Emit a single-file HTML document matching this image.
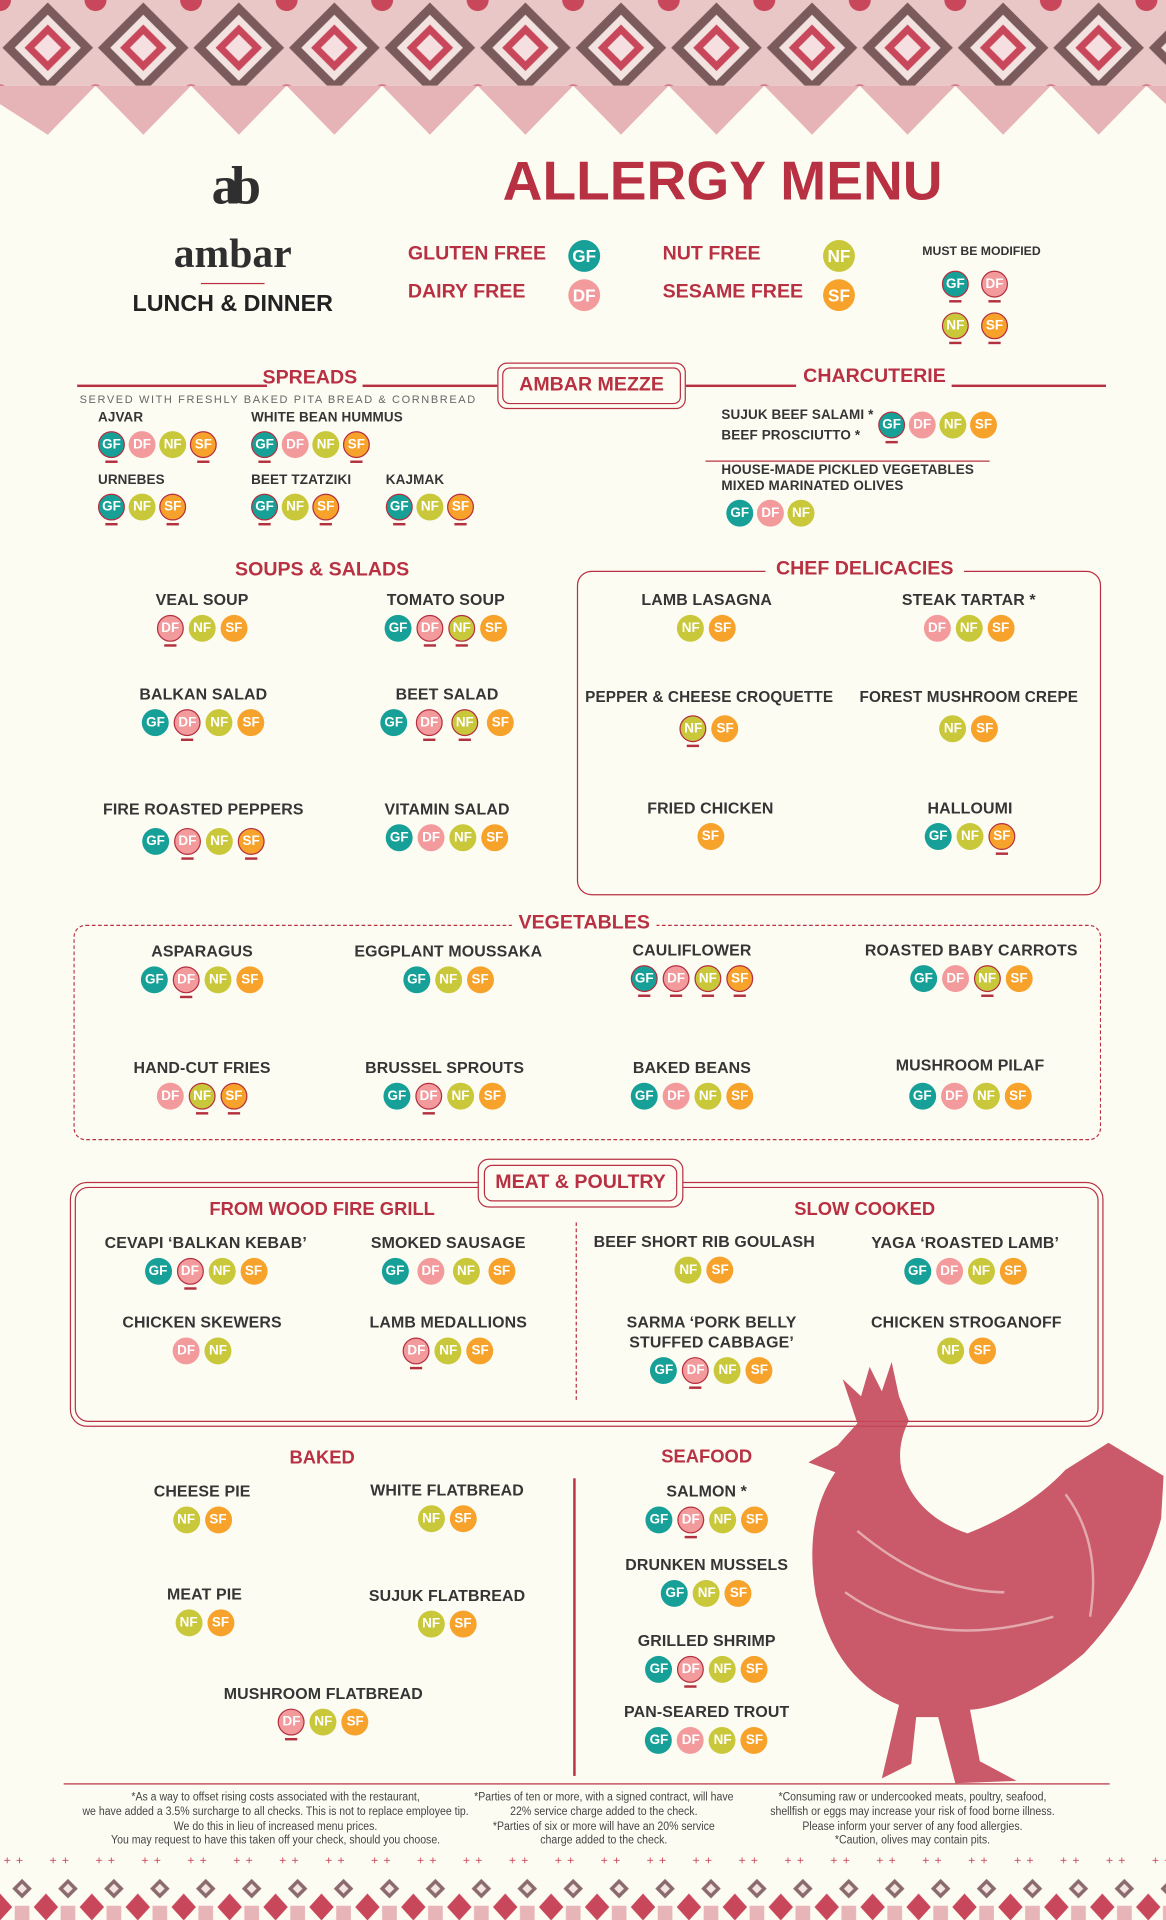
<!DOCTYPE html>
<html><head><meta charset="utf-8">
<style>
html,body{margin:0;padding:0;background:#fdfcf3;}
#w{width:952px;height:1568px;position:relative;transform:scale(1.22479);transform-origin:0 0;overflow:hidden;font-family:"Liberation Sans",sans-serif;color:#333;}
.a{position:absolute;}
.it{position:absolute;transform:translateX(-50%);text-align:center;white-space:nowrap;}
.il{position:absolute;white-space:nowrap;}
.it p,.il p{margin:0 0 4px;font-weight:bold;font-size:13px;line-height:16px;color:#353535;letter-spacing:.1px;}
.il p{font-size:11px;line-height:13px;font-family:"Liberation Sans Narrow","Liberation Sans",sans-serif;}
.r{display:flex;gap:4px;justify-content:center;}
.il .r{justify-content:flex-start;gap:3px;}
.r b{width:22px;height:22px;border-radius:50%;display:inline-flex;align-items:center;justify-content:center;color:#fff;font-size:11px;font-weight:bold;font-family:"Liberation Sans Narrow","Liberation Sans",sans-serif;position:relative;box-sizing:border-box;}
.g{background:#17a097;}.d{background:#f29a9c;}.n{background:#c9c73a;}.s{background:#f6a22b;}
b.m{border:1.5px solid #b3303f;}
b.m::after{content:"";position:absolute;left:5px;right:5px;bottom:-5px;height:2px;background:#b3303f;}
.h{position:absolute;transform:translateX(-50%);color:#b83143;font-weight:bold;font-size:16px;white-space:nowrap;}
.ln{position:absolute;height:1.5px;background:#b83143;}
.ft{position:absolute;transform:translateX(-50%) scaleX(0.86);text-align:center;font-family:"Liberation Sans Narrow","Liberation Sans",sans-serif;font-size:10px;line-height:11.8px;color:#444;white-space:nowrap;}
.leg{position:absolute;color:#b83143;font-weight:bold;font-size:16px;}
.lb{position:absolute;width:26px;height:26px;border-radius:50%;color:#fff;font-weight:bold;font-size:14px;display:flex;align-items:center;justify-content:center;font-family:"Liberation Sans Narrow","Liberation Sans",sans-serif;box-sizing:border-box;}
</style></head><body><div id="w">

<svg class="a" style="left:0;top:0" width="952" height="120">
<defs>
<pattern id="p1" width="78" height="78" patternUnits="userSpaceOnUse">
<rect width="78" height="78" fill="#e9c7c7"/>
<polygon points="39,2 76,39 39,76 2,39" fill="#7a5a5a"/>
<polygon points="39,12 66,39 39,66 12,39" fill="#f2e2e0"/>
<polygon points="39,20 58,39 39,58 20,39" fill="#c9475a"/>
<polygon points="39,28 50,39 39,50 28,39" fill="#f6dfe0"/>
<circle cx="0" cy="0" r="9" fill="#c9475a"/><circle cx="78" cy="0" r="9" fill="#c9475a"/><circle cx="0" cy="78" r="9" fill="#c9475a"/><circle cx="78" cy="78" r="9" fill="#c9475a"/>
</pattern>
</defs>
<rect x="0" y="0" width="952" height="70" fill="url(#p1)"/>
<path d="M0,70 L0,85 L39,110 L78,70 L117,110 L156,70 L195,110 L234,70 L273,110 L312,70 L351,110 L390,70 L429,110 L468,70 L507,110 L546,70 L585,110 L624,70 L663,110 L702,70 L741,110 L780,70 L819,110 L858,70 L897,110 L936,70 L952,85 L952,70 Z" fill="#e6b3b6"/>
</svg>

<div class="a" style="left:160px;top:122px;width:60px;text-align:center;font-family:'Liberation Serif',serif;font-weight:bold;font-size:44px;color:#2f2f2f;line-height:60px;letter-spacing:-6px">ab</div>
<div class="a" style="left:100px;top:188px;width:180px;text-align:center;font-family:'Liberation Serif',serif;font-weight:bold;font-size:34px;color:#2f2f2f;line-height:40px">ambar</div>
<div class="ln" style="left:164px;top:231px;width:52px;height:1px"></div>
<div class="a" style="left:80px;top:238px;width:220px;text-align:center;font-weight:bold;font-size:19px;color:#222">LUNCH &amp; DINNER</div>

<div class="a" style="left:400px;top:120px;width:380px;text-align:center;color:#b83143;font-weight:bold;font-size:45px;line-height:56px">ALLERGY MENU</div>
<div class="leg" style="left:333px;top:199px">GLUTEN FREE</div>
<div class="leg" style="left:333px;top:230px">DAIRY FREE</div>
<div class="leg" style="left:541px;top:199px">NUT FREE</div>
<div class="leg" style="left:541px;top:230px">SESAME FREE</div>
<div class="lb g" style="left:464px;top:196px">GF</div>
<div class="lb d" style="left:464px;top:228px">DF</div>
<div class="lb n" style="left:672px;top:196px">NF</div>
<div class="lb s" style="left:672px;top:228px">SF</div>
<div class="a" style="left:753px;top:200px;font-size:10px;font-weight:bold;font-family:'Liberation Sans Narrow','Liberation Sans',sans-serif;color:#333">MUST BE MODIFIED</div>
<div class="il" style="left:769px;top:221px"><div class="r" style="gap:10px"><b class="g m">GF</b><b class="d m">DF</b></div></div>
<div class="il" style="left:769px;top:255px"><div class="r" style="gap:10px"><b class="n m">NF</b><b class="s m">SF</b></div></div>

<div class="ln" style="left:63px;top:314px;width:155px"></div>
<div class="h" style="left:253px;top:300px">SPREADS</div>
<div class="ln" style="left:296px;top:314px;width:110px"></div>
<div class="a" style="left:406px;top:296px;width:152px;height:36px;border:1.5px solid #b83143;border-radius:8px"></div>
<div class="a" style="left:410px;top:300px;width:144px;height:28px;border:1.5px solid #b83143;border-radius:6px;text-align:center;line-height:28px;color:#b83143;font-weight:bold;font-size:16px">AMBAR MEZZE</div>
<div class="ln" style="left:560px;top:314px;width:90px"></div>
<div class="h" style="left:714px;top:299px">CHARCUTERIE</div>
<div class="ln" style="left:777px;top:314px;width:126px"></div>
<div class="a" style="left:65px;top:321px;font-size:9px;letter-spacing:1.3px;color:#666">SERVED WITH FRESHLY BAKED PITA BREAD &amp; CORNBREAD</div>

<div class="il" style="left:80px;top:335px"><p>AJVAR</p><div class="r"><b class="g m">GF</b><b class="d">DF</b><b class="n">NF</b><b class="s m">SF</b></div></div>
<div class="il" style="left:205px;top:335px"><p>WHITE BEAN HUMMUS</p><div class="r"><b class="g m">GF</b><b class="d">DF</b><b class="n">NF</b><b class="s m">SF</b></div></div>
<div class="il" style="left:80px;top:386px"><p>URNEBES</p><div class="r"><b class="g m">GF</b><b class="n">NF</b><b class="s m">SF</b></div></div>
<div class="il" style="left:205px;top:386px"><p>BEET TZATZIKI</p><div class="r"><b class="g m">GF</b><b class="n">NF</b><b class="s m">SF</b></div></div>
<div class="il" style="left:315px;top:386px"><p>KAJMAK</p><div class="r"><b class="g m">GF</b><b class="n">NF</b><b class="s m">SF</b></div></div>

<div class="il" style="left:589px;top:333px"><p>SUJUK BEEF SALAMI *</p><p>BEEF PROSCIUTTO *</p></div>
<div class="il" style="left:717px;top:336px"><div class="r"><b class="g m">GF</b><b class="d">DF</b><b class="n">NF</b><b class="s">SF</b></div></div>
<div class="ln" style="left:576px;top:376px;width:232px;height:1px"></div>
<div class="il" style="left:589px;top:378px"><p style="margin:0">HOUSE-MADE PICKLED VEGETABLES</p><p>MIXED MARINATED OLIVES</p></div>
<div class="il" style="left:593px;top:408px"><div class="r"><b class="g">GF</b><b class="d">DF</b><b class="n">NF</b></div></div>

<div class="h" style="left:263px;top:457px">SOUPS &amp; SALADS</div>
<div class="it" style="left:165px;top:482px"><p>VEAL SOUP</p><div class="r"><b class="d m">DF</b><b class="n">NF</b><b class="s">SF</b></div></div>
<div class="it" style="left:364px;top:482px"><p>TOMATO SOUP</p><div class="r"><b class="g">GF</b><b class="d m">DF</b><b class="n m">NF</b><b class="s">SF</b></div></div>
<div class="it" style="left:166px;top:559px"><p>BALKAN SALAD</p><div class="r"><b class="g">GF</b><b class="d m">DF</b><b class="n">NF</b><b class="s">SF</b></div></div>
<div class="it" style="left:365px;top:559px"><p>BEET SALAD</p><div class="r" style="gap:7px"><b class="g">GF</b><b class="d m">DF</b><b class="n m">NF</b><b class="s">SF</b></div></div>
<div class="it" style="left:166px;top:653px"><p>FIRE ROASTED PEPPERS</p><div class="r" style="margin-top:7px"><b class="g">GF</b><b class="d m">DF</b><b class="n">NF</b><b class="s m">SF</b></div></div>
<div class="it" style="left:365px;top:653px"><p>VITAMIN SALAD</p><div class="r"><b class="g">GF</b><b class="d">DF</b><b class="n">NF</b><b class="s">SF</b></div></div>

<div class="a" style="left:471px;top:466px;width:428px;height:265px;border:1.5px solid #b83143;border-radius:12px;box-sizing:border-box"></div>
<div class="a" style="left:625px;top:456px;width:162px;height:20px;background:#fdfcf3"></div>
<div class="h" style="left:706px;top:456px">CHEF DELICACIES</div>
<div class="it" style="left:577px;top:482px"><p>LAMB LASAGNA</p><div class="r"><b class="n">NF</b><b class="s">SF</b></div></div>
<div class="it" style="left:791px;top:482px"><p>STEAK TARTAR *</p><div class="r"><b class="d">DF</b><b class="n">NF</b><b class="s">SF</b></div></div>
<div class="it" style="left:579px;top:561px"><p style="font-size:12.5px">PEPPER &amp; CHEESE CROQUETTE</p><div class="r" style="margin-top:7px"><b class="n m">NF</b><b class="s">SF</b></div></div>
<div class="it" style="left:791px;top:561px"><p style="font-size:12.5px">FOREST MUSHROOM CREPE</p><div class="r" style="margin-top:7px"><b class="n">NF</b><b class="s">SF</b></div></div>
<div class="it" style="left:580px;top:652px"><p>FRIED CHICKEN</p><div class="r"><b class="s">SF</b></div></div>
<div class="it" style="left:792px;top:652px"><p>HALLOUMI</p><div class="r"><b class="g">GF</b><b class="n">NF</b><b class="s m">SF</b></div></div>

<div class="a" style="left:60px;top:755px;width:839px;height:176px;border:1.5px dashed #b83143;border-radius:10px;box-sizing:border-box"></div>
<div class="a" style="left:418px;top:745px;width:118px;height:20px;background:#fdfcf3"></div>
<div class="h" style="left:477px;top:745px">VEGETABLES</div>
<div class="it" style="left:165px;top:769px"><p>ASPARAGUS</p><div class="r"><b class="g">GF</b><b class="d m">DF</b><b class="n">NF</b><b class="s">SF</b></div></div>
<div class="it" style="left:366px;top:769px"><p>EGGPLANT MOUSSAKA</p><div class="r"><b class="g">GF</b><b class="n">NF</b><b class="s">SF</b></div></div>
<div class="it" style="left:565px;top:768px"><p>CAULIFLOWER</p><div class="r"><b class="g m">GF</b><b class="d m">DF</b><b class="n m">NF</b><b class="s m">SF</b></div></div>
<div class="it" style="left:793px;top:768px"><p>ROASTED BABY CARROTS</p><div class="r"><b class="g">GF</b><b class="d">DF</b><b class="n m">NF</b><b class="s">SF</b></div></div>
<div class="it" style="left:165px;top:864px"><p>HAND-CUT FRIES</p><div class="r"><b class="d">DF</b><b class="n m">NF</b><b class="s m">SF</b></div></div>
<div class="it" style="left:363px;top:864px"><p>BRUSSEL SPROUTS</p><div class="r"><b class="g">GF</b><b class="d m">DF</b><b class="n">NF</b><b class="s">SF</b></div></div>
<div class="it" style="left:565px;top:864px"><p>BAKED BEANS</p><div class="r"><b class="g">GF</b><b class="d">DF</b><b class="n">NF</b><b class="s">SF</b></div></div>
<div class="it" style="left:792px;top:862px"><p>MUSHROOM PILAF</p><div class="r" style="margin-top:6px"><b class="g">GF</b><b class="d">DF</b><b class="n">NF</b><b class="s">SF</b></div></div>

<div class="a" style="left:57px;top:965px;width:844px;height:200px;border:1.5px solid #b83143;border-radius:14px;box-sizing:border-box"></div>
<div class="a" style="left:61px;top:969px;width:836px;height:192px;border:1.5px solid #b83143;border-radius:11px;box-sizing:border-box"></div>
<div class="a" style="left:390px;top:946px;width:168px;height:40px;background:#fdfcf3;border:1.5px solid #b83143;border-radius:9px;box-sizing:border-box"></div>
<div class="a" style="left:395px;top:951px;width:158px;height:30px;border:1.5px solid #b83143;border-radius:7px;box-sizing:border-box;text-align:center;line-height:27px;color:#b83143;font-weight:bold;font-size:16px">MEAT &amp; POULTRY</div>
<div class="h" style="left:263px;top:979px;font-size:15px">FROM WOOD FIRE GRILL</div>
<div class="h" style="left:706px;top:979px;font-size:15px">SLOW COOKED</div>
<div class="a" style="left:470px;top:998px;height:145px;border-left:1.5px dashed #b83143"></div>
<div class="it" style="left:168px;top:1007px"><p>CEVAPI ‘BALKAN KEBAB’</p><div class="r"><b class="g">GF</b><b class="d m">DF</b><b class="n">NF</b><b class="s">SF</b></div></div>
<div class="it" style="left:366px;top:1007px"><p>SMOKED SAUSAGE</p><div class="r" style="gap:7px"><b class="g">GF</b><b class="d">DF</b><b class="n">NF</b><b class="s">SF</b></div></div>
<div class="it" style="left:165px;top:1072px"><p>CHICKEN SKEWERS</p><div class="r"><b class="d">DF</b><b class="n">NF</b></div></div>
<div class="it" style="left:366px;top:1072px"><p>LAMB MEDALLIONS</p><div class="r"><b class="d m">DF</b><b class="n">NF</b><b class="s">SF</b></div></div>
<div class="it" style="left:575px;top:1006px"><p>BEEF SHORT RIB GOULASH</p><div class="r"><b class="n">NF</b><b class="s">SF</b></div></div>
<div class="it" style="left:788px;top:1007px"><p>YAGA ‘ROASTED LAMB’</p><div class="r"><b class="g">GF</b><b class="d">DF</b><b class="n">NF</b><b class="s">SF</b></div></div>
<div class="it" style="left:581px;top:1072px"><p style="margin:0">SARMA ‘PORK BELLY</p><p>STUFFED CABBAGE’</p><div class="r"><b class="g">GF</b><b class="d m">DF</b><b class="n">NF</b><b class="s">SF</b></div></div>
<div class="it" style="left:789px;top:1072px"><p>CHICKEN STROGANOFF</p><div class="r"><b class="n">NF</b><b class="s">SF</b></div></div>

<svg class="a" style="left:0;top:0" width="952" height="1568">
<path d="M700,1162 L688,1126 L703,1140 L710,1116 L720,1136 L728,1112 L734,1140 L742,1160 Q732,1180 736,1200 Q748,1238 790,1252 Q840,1232 870,1200 L905,1178 L950,1205 L948,1240 Q932,1300 885,1350 Q835,1392 792,1396 L800,1438 L830,1454 L780,1456 L766,1402 L748,1402 L744,1440 L720,1452 L734,1392 Q682,1372 666,1302 Q656,1240 682,1202 L660,1194 L684,1180 Z" fill="#c4475a" opacity="0.9"/>
<path d="M700,1250 Q760,1300 820,1300 M690,1300 Q760,1350 860,1320 M870,1220 Q900,1260 890,1320" stroke="#fdfcf3" stroke-width="2" fill="none" opacity="0.5"/>
</svg>

<div class="h" style="left:263px;top:1182px;font-size:15px">BAKED</div>
<div class="h" style="left:577px;top:1181px;font-size:15px">SEAFOOD</div>
<div class="a" style="left:468px;top:1207px;width:1.5px;height:243px;background:#b83143"></div>
<div class="it" style="left:165px;top:1210px"><p>CHEESE PIE</p><div class="r"><b class="n">NF</b><b class="s">SF</b></div></div>
<div class="it" style="left:365px;top:1209px"><p>WHITE FLATBREAD</p><div class="r"><b class="n">NF</b><b class="s">SF</b></div></div>
<div class="it" style="left:167px;top:1294px"><p>MEAT PIE</p><div class="r"><b class="n">NF</b><b class="s">SF</b></div></div>
<div class="it" style="left:365px;top:1295px"><p>SUJUK FLATBREAD</p><div class="r"><b class="n">NF</b><b class="s">SF</b></div></div>
<div class="it" style="left:264px;top:1375px"><p>MUSHROOM FLATBREAD</p><div class="r"><b class="d m">DF</b><b class="n">NF</b><b class="s">SF</b></div></div>
<div class="it" style="left:577px;top:1210px"><p>SALMON *</p><div class="r"><b class="g">GF</b><b class="d m">DF</b><b class="n">NF</b><b class="s">SF</b></div></div>
<div class="it" style="left:577px;top:1270px"><p>DRUNKEN MUSSELS</p><div class="r"><b class="g">GF</b><b class="n">NF</b><b class="s">SF</b></div></div>
<div class="it" style="left:577px;top:1332px"><p>GRILLED SHRIMP</p><div class="r"><b class="g">GF</b><b class="d m">DF</b><b class="n">NF</b><b class="s">SF</b></div></div>
<div class="it" style="left:577px;top:1390px"><p>PAN-SEARED TROUT</p><div class="r"><b class="g">GF</b><b class="d">DF</b><b class="n">NF</b><b class="s">SF</b></div></div>

<div class="ln" style="left:52px;top:1456px;width:854px;height:1px"></div>
<div class="ft" style="left:225px;top:1462px">*As a way to offset rising costs associated with the restaurant,<br>we have added a 3.5% surcharge to all checks. This is not to replace employee tip.<br>We do this in lieu of increased menu prices.<br>You may request to have this taken off your check, should you choose.</div>
<div class="ft" style="left:493px;top:1462px">*Parties of ten or more, with a signed contract, will have<br>22% service charge added to the check.<br>*Parties of six or more will have an 20% service<br>charge added to the check.</div>
<div class="ft" style="left:745px;top:1462px">*Consuming raw or undercooked meats, poultry, seafood,<br>shellfish or eggs may increase your risk of food borne illness.<br>Please inform your server of any food allergies.<br>*Caution, olives may contain pits.</div>

<svg class="a" style="left:0;top:1512px" width="952" height="56">
<defs>
<pattern id="p2" width="37.5" height="56" patternUnits="userSpaceOnUse">
<text x="3" y="10" font-size="10" fill="#c9475a" font-family="Liberation Sans">+</text>
<text x="13" y="10" font-size="10" fill="#c9475a" font-family="Liberation Sans">+</text>
<polygon points="18,22 26,30 18,38 10,30" fill="#8a6a6a"/>
<polygon points="18,26 22,30 18,34 14,30" fill="#f3e5e4"/>
<polygon points="0,34 10,45 0,56" fill="#c9475a"/>
<polygon points="37.5,34 27.5,45 37.5,56" fill="#c9475a"/>
<rect x="12" y="44" width="12" height="12" fill="#e7b5b8"/>
</pattern>
</defs>
<rect width="952" height="56" fill="url(#p2)"/>
</svg>
</div></body></html>
